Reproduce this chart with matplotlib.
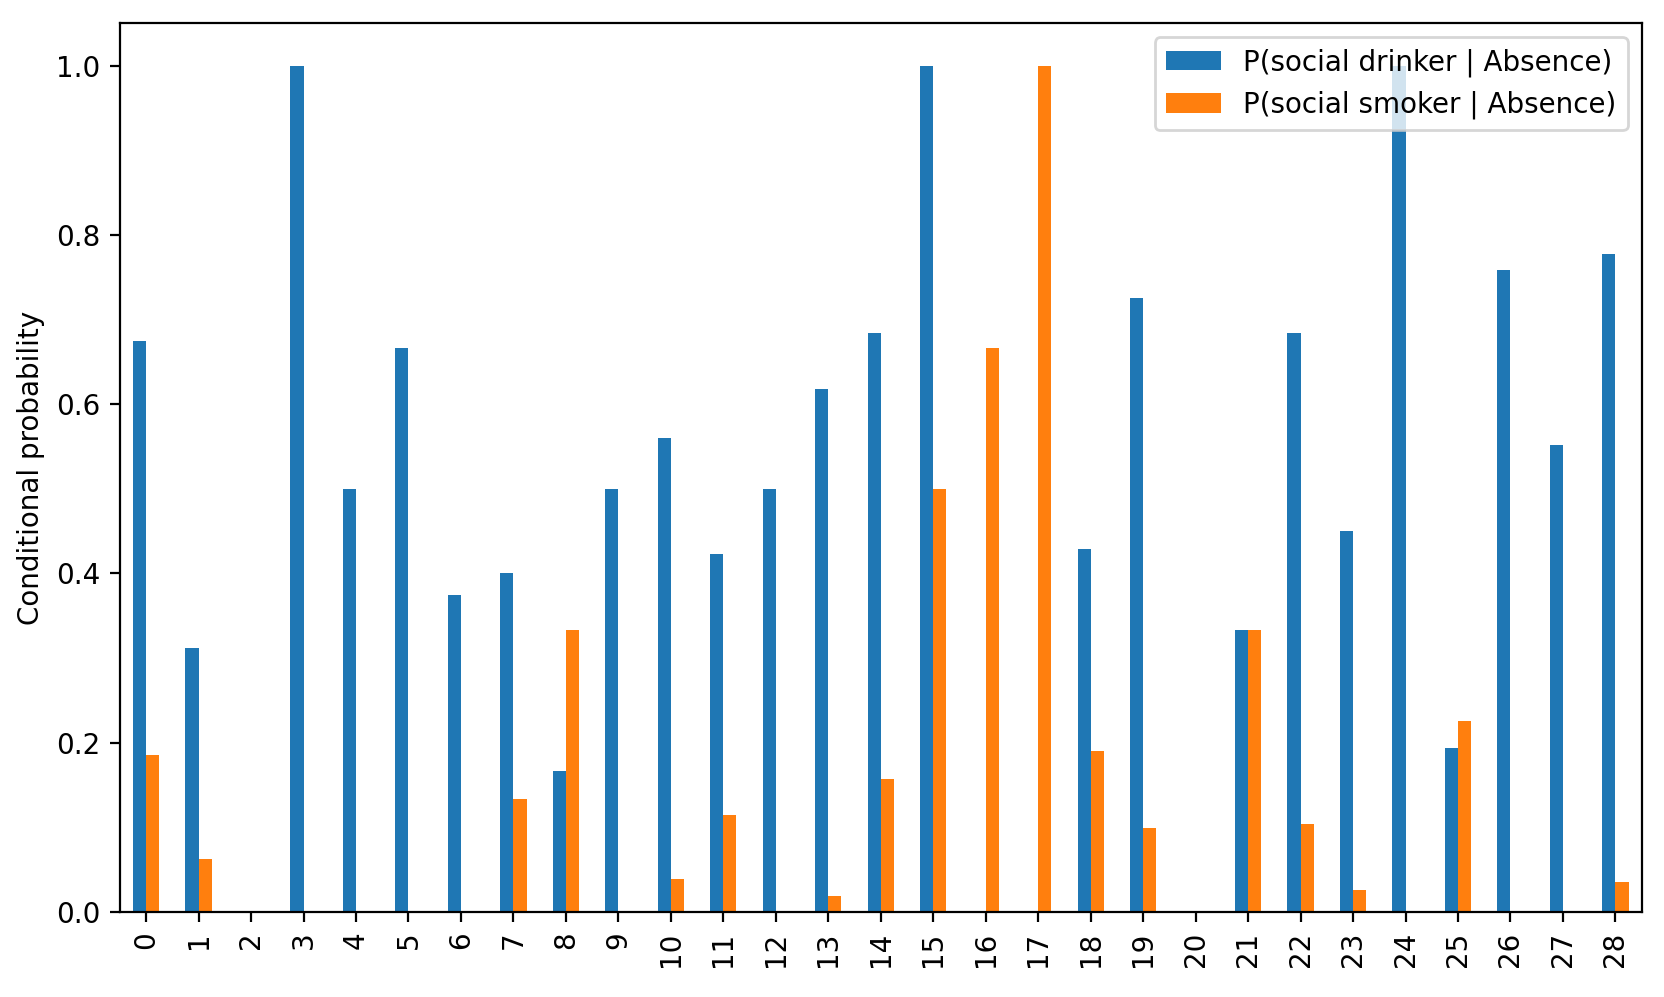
import matplotlib
matplotlib.use("Agg")
import matplotlib.pyplot as plt
import numpy as np
import pandas as pd

categories = list(range(29))
drinker = [0.675, 0.3125, 0.0, 1.0, 0.5, 0.667, 0.375, 0.4, 0.1667, 0.5,
           0.56, 0.423, 0.5, 0.618, 0.684, 1.0, 0.0, 0.0, 0.4286, 0.725,
           0.0, 0.3333, 0.684, 0.45, 1.0, 0.194, 0.759, 0.5515, 0.7776]
smoker = [0.186, 0.0625, 0.0, 0.0, 0.0, 0.0, 0.0, 0.1333, 0.3333, 0.0,
          0.039, 0.114, 0.0, 0.0188, 0.157, 0.5, 0.6667, 1.0, 0.1905, 0.099,
          0.0, 0.3333, 0.104, 0.026, 0.0, 0.226, 0.0, 0.0, 0.035]

df = pd.DataFrame({"P(social drinker | Absence)": drinker,
                   "P(social smoker | Absence)": smoker}, index=categories)

fig = plt.figure(figsize=(1665/200, 997/200), dpi=200)
ax = fig.add_axes([0.072, 0.0853, 0.914, 0.8912])
df.plot.bar(ax=ax, color=["#1f77b4", "#ff7f0e"])
ax.set_ylabel("Conditional probability")
ax.legend(loc="upper right")
fig.savefig("out.png", dpi=200)
